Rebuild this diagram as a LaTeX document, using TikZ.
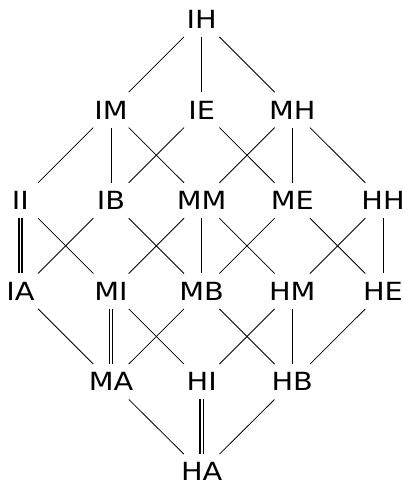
\documentclass[tikz,border=0pt]{standalone}
\usepackage{fontspec}
\setmainfont{DejaVu Sans}[FakeStretch=1.15]
\begin{document}
\begin{tikzpicture}[x=1pt,y=1pt,
  lat/.style={rectangle,inner sep=0pt,minimum width=35pt,minimum height=35pt,font=\fontsize{25}{25}\selectfont},
  edge/.style={line width=0.8pt},
  dbl/.style={line width=1.6pt,double,double distance=1.7pt}]
\useasboundingbox (0,0) rectangle (403,483);
\node[lat] (IH) at (201.7,463.8) {IH};
\node[lat] (IM) at (111.0,373.1) {IM};
\node[lat] (IE) at (201.7,373.1) {IE};
\node[lat] (MH) at (292.3,373.1) {MH};
\node[lat] (II) at (20.4,282.5) {II};
\node[lat] (IB) at (111.0,282.5) {IB};
\node[lat] (MM) at (201.7,282.5) {MM};
\node[lat] (ME) at (292.3,282.5) {ME};
\node[lat] (HH) at (383.0,282.5) {HH};
\node[lat] (IA) at (20.4,191.8) {IA};
\node[lat] (MI) at (111.0,191.8) {MI};
\node[lat] (MB) at (201.7,191.8) {MB};
\node[lat] (HM) at (292.3,191.8) {HM};
\node[lat] (HE) at (383.0,191.8) {HE};
\node[lat] (MA) at (111.0,101.2) {MA};
\node[lat] (HI) at (201.7,101.2) {HI};
\node[lat] (HB) at (292.3,101.2) {HB};
\node[lat] (HA) at (201.7,11.2) {HA};
\foreach \a/\b in {IH/IM,IH/IE,IH/MH,
  IM/II,IM/IB,IM/MM,IE/IB,IE/ME,MH/MM,MH/ME,MH/HH,
  II/MI,IB/IA,IB/MB,MM/MI,MM/MB,MM/HM,ME/MB,ME/HE,HH/HM,HH/HE,
  IA/MA,MI/HI,MB/MA,MB/HB,HM/HI,HM/HB,HE/HB,
  MA/HA,HB/HA}
  \draw[edge] (\a) -- (\b);
\draw[dbl] (II) -- (IA);
\draw[dbl] (MI) -- (MA);
\draw[dbl] (HI) -- (HA);
\end{tikzpicture}
\end{document}
